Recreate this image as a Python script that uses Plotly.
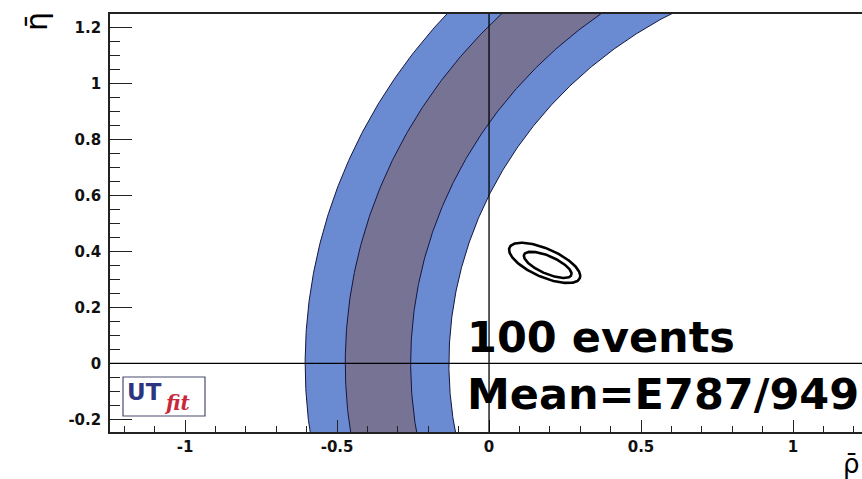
import numpy as np
import plotly.graph_objects as go

# ---------------- data ----------------
band_center = [1.30, 0.0]               # common centre of the circular constraint (rho, eta)
outer_band_radii = [1.432, 1.905]       # 95% probability band (inner, outer radius)
inner_band_radii = [1.558, 1.773]       # 68% probability band (inner, outer radius)

# fitted contours: centre x, centre y, semi-major, semi-minor, angle (deg)
contour_cx = [0.183, 0.193]
contour_cy = [0.359, 0.352]
contour_a = [0.128, 0.086]
contour_b = [0.050, 0.031]
contour_angle = [-26, -26]

x_tick_vals = [-1, -0.5, 0, 0.5, 1]
x_tick_text = ["-1", "-0.5", "0", "0.5", "1"]
y_tick_vals = [-0.2, 0, 0.2, 0.4, 0.6, 0.8, 1.0, 1.2]
y_tick_text = ["-0.2", "0", "0.2", "0.4", "0.6", "0.8", "1", "1.2"]

label_events = "100 events"
label_mean = "Mean=E787/949"

# ---------------- styles ----------------
LIGHT = "#6a8ad2"
DARK = "#777395"
EDGE = "#15163f"

theta = np.linspace(np.radians(85), np.radians(200), 400)


def annulus(r_in, r_out):
    cx, cy = band_center
    xo = cx + r_out * np.cos(theta)
    yo = cy + r_out * np.sin(theta)
    xi = cx + r_in * np.cos(theta[::-1])
    yi = cy + r_in * np.sin(theta[::-1])
    return np.concatenate([xo, xi, xo[:1]]), np.concatenate([yo, yi, yo[:1]])


fig = go.Figure()

for radii, col in [(outer_band_radii, LIGHT), (inner_band_radii, DARK)]:
    bx, by = annulus(radii[0], radii[1])
    fig.add_trace(go.Scatter(x=bx, y=by, mode="lines", fill="toself",
                             fillcolor=col, line=dict(color=EDGE, width=1),
                             hoverinfo="skip", showlegend=False))

t = np.linspace(0, 2 * np.pi, 200)
for cx, cy, a, b, ang in zip(contour_cx, contour_cy, contour_a, contour_b, contour_angle):
    ca, sa = np.cos(np.radians(ang)), np.sin(np.radians(ang))
    ex = cx + a * np.cos(t) * ca - b * np.sin(t) * sa
    ey = cy + a * np.cos(t) * sa + b * np.sin(t) * ca
    fig.add_trace(go.Scatter(x=ex, y=ey, mode="lines",
                             line=dict(color="black", width=2.6),
                             hoverinfo="skip", showlegend=False))

XR = [-1.247, 1.227]
YR = [-0.245, 1.248]

tickfont = dict(family="DejaVu Sans", size=15, color="#111111", weight="bold")

fig.update_xaxes(range=XR, showgrid=False, zeroline=False, automargin=False,
                 showline=True, mirror=True, linecolor="#222222", linewidth=1.6,
                 tickmode="array", tickvals=x_tick_vals, ticktext=x_tick_text,
                 ticks="inside", ticklen=12, tickwidth=1.4, tickcolor="#222222",
                 tickfont=tickfont, ticklabelstandoff=0,
                 minor=dict(ticks="inside", ticklen=6, tickwidth=1.2, tickcolor="#222222",
                            tickmode="linear", tick0=0, dtick=0.1, showgrid=False))
fig.update_yaxes(range=YR, showgrid=False, zeroline=False, automargin=False,
                 showline=True, mirror=False, linecolor="#222222", linewidth=1.6,
                 tickmode="array", tickvals=y_tick_vals, ticktext=y_tick_text,
                 ticks="inside", ticklen=22, tickwidth=1.4, tickcolor="#222222",
                 tickfont=tickfont, ticklabelstandoff=4,
                 minor=dict(ticks="inside", ticklen=10, tickwidth=1.2, tickcolor="#222222",
                            tickmode="linear", tick0=0, dtick=0.05, showgrid=False))

shapes = [
    dict(type="line", xref="x", yref="paper", x0=0, x1=0, y0=0, y1=1,
         line=dict(color="black", width=1.3), layer="above"),
    dict(type="line", xref="paper", yref="y", x0=0, x1=1, y0=0, y1=0,
         line=dict(color="black", width=1.3), layer="above"),
    # UTfit logo box
    dict(type="rect", xref="paper", yref="paper",
         x0=(123 - 110) / 752, x1=(205 - 110) / 752,
         y0=(432 - 416) / 418, y1=(432 - 377) / 418,
         line=dict(color="#4a4a70", width=1.2), fillcolor="white", layer="above"),
]

annotations = [
    dict(text=label_events, xref="paper", yref="paper", x=(465 - 110) / 752, y=(432 - 337) / 418,
         xanchor="left", yanchor="middle", showarrow=False,
         font=dict(family="DejaVu Sans", size=43, color="black", weight="bold")),
    dict(text=label_mean, xref="paper", yref="paper", x=(465 - 110) / 752, y=(432 - 394) / 418,
         xanchor="left", yanchor="middle", showarrow=False,
         font=dict(family="DejaVu Sans", size=43, color="black", weight="bold")),
    dict(text="UT", xref="paper", yref="paper", x=(125 - 110) / 752, y=(432 - 392) / 418,
         xanchor="left", yanchor="middle", showarrow=False,
         font=dict(family="DejaVu Sans", size=23, color="#2b3580", weight="bold")),
    dict(text="<i>fit</i>", xref="paper", yref="paper", x=(162 - 110) / 752, y=(432 - 403) / 418,
         xanchor="left", yanchor="middle", showarrow=False,
         font=dict(family="DejaVu Serif", size=20, color="#c8283a", weight="bold")),
    dict(text="\u03b7\u0304", xref="paper", yref="paper", x=(37 - 110) / 752, y=(432 - 22) / 418,
         xanchor="center", yanchor="middle", textangle=-90, showarrow=False,
         font=dict(family="DejaVu Sans", size=30, color="black")),
    dict(text="\u03c1\u0304", xref="paper", yref="paper", x=(862 - 110) / 752, y=(432 - 464) / 418,
         xanchor="right", yanchor="middle", showarrow=False,
         font=dict(family="DejaVu Sans", size=26, color="black")),
]

fig.update_layout(width=862, height=479,
                  margin=dict(l=110, r=0, t=14, b=47, autoexpand=False),
                  plot_bgcolor="white", paper_bgcolor="white",
                  shapes=shapes, annotations=annotations, showlegend=False)

fig.write_html("out.html", config={"displayModeBar": False},
               post_script="document.body.style.margin='0';document.body.style.overflow='hidden';")
